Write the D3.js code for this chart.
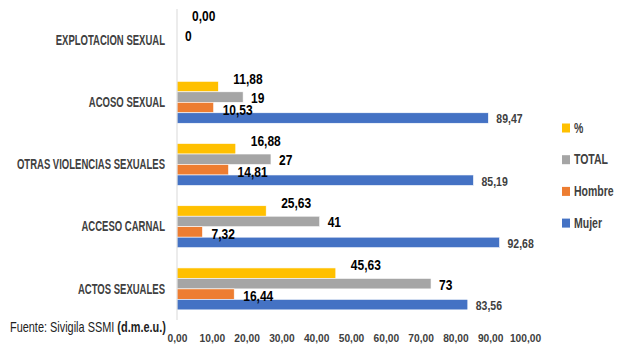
<!DOCTYPE html>
<html><head><meta charset="utf-8">
<script src="https://cdn.jsdelivr.net/npm/d3@7"></script>
<style>
body{margin:0;background:#fff;}
text{font-family:'Liberation Sans',Arial,sans-serif;}
</style></head>
<body><svg id="c" width="619" height="350"></svg>
<script>
const categories = ["EXPLOTACION SEXUAL","ACOSO SEXUAL","OTRAS VIOLENCIAS SEXUALES","ACCESO CARNAL","ACTOS SEXUALES"];
const seriesNames = ["%","TOTAL","Hombre","Mujer"];
const pct    = [0.00, 11.88, 16.88, 25.63, 45.63];
const total  = [0, 19, 27, 41, 73];
const hombre = [null, 10.53, 14.81, 7.32, 16.44];
const mujer  = [null, 89.47, 85.19, 92.68, 83.56];
const xTicks = [0,10,20,30,40,50,60,70,80,90,100];
const source = "Fuente: Sivigila SSMI ";
const sourceBold = "(d.m.e.u.)";

const colors = {"%":"#FFC000","TOTAL":"#A5A5A5","Hombre":"#ED7D31","Mujer":"#4472C4"};
const seriesValues = {"%":pct,"TOTAL":total,"Hombre":hombre,"Mujer":mujer};
const fmt2 = v => d3.format(".2f")(v).replace(".", ",");
const fmtLabel = {"%":fmt2,"TOTAL":v=>String(v),"Hombre":fmt2,"Mujer":fmt2};
const labelStyle = {
  "%":{dx:15,dy:-8,size:15,k:0.8,color:"#000"},
  "TOTAL":{dx:8,dy:1,size:15,k:0.8,color:"#000"},
  "Hombre":{dx:9,dy:2,size:15,k:0.8,color:"#000"},
  "Mujer":{dx:8,dy:1,size:12.5,k:0.84,color:"#404040"}
};

const svg = d3.select("#c");
const x = d3.scaleLinear().domain([0,100]).range([177,525]);
const y0 = d3.scaleBand().domain(categories).range([9,320]).paddingInner(0.326).paddingOuter(0.163);
const y1 = d3.scaleBand().domain(seriesNames).range([0,y0.bandwidth()]);

const rows = categories.map((c,i)=>({cat:c, vals:seriesNames.map(s=>({s, v:seriesValues[s][i]}))}));

const g = svg.append("g");
const grp = g.selectAll("g.cat").data(rows).join("g").attr("transform",d=>`translate(0,${y0(d.cat)})`);
grp.selectAll("rect").data(d=>d.vals.filter(e=>e.v!=null && e.v>0)).join("rect")
  .attr("x",x(0)).attr("y",e=>y1(e.s)).attr("width",e=>x(e.v)-x(0)).attr("height",y1.bandwidth())
  .attr("fill",e=>colors[e.s]).attr("stroke","#fff").attr("stroke-width",0.6);
grp.selectAll("text.v").data(d=>d.vals.filter(e=>e.v!=null)).join("text").attr("class","v")
  .attr("transform",e=>`translate(${x(e.v)+labelStyle[e.s].dx},${y1(e.s)+y1.bandwidth()/2+labelStyle[e.s].dy}) scale(${labelStyle[e.s].k},1)`)
  .attr("dominant-baseline","central")
  .attr("font-size",e=>labelStyle[e.s].size).attr("font-weight","bold")
  .attr("fill",e=>labelStyle[e.s].color)
  .text(e=>fmtLabel[e.s](e.v));

// vertical axis line
svg.append("line").attr("x1",x(0)).attr("x2",x(0)).attr("y1",y0.range()[0]).attr("y2",y0.range()[1])
  .attr("stroke","#d9d9d9").attr("stroke-width",1);

// category labels
svg.append("g").selectAll("text").data(categories).join("text")
  .attr("transform",d=>`translate(${x(0)-12},${y0(d)+y0.bandwidth()/2}) scale(0.68,1)`)
  .attr("text-anchor","end").attr("dominant-baseline","central")
  .attr("font-size",14).attr("font-weight","bold").attr("fill","#404040").text(d=>d);

// x axis
const xa = svg.append("g").attr("transform","translate(0,330)")
  .call(d3.axisBottom(x).tickValues(xTicks).tickSize(0).tickPadding(4).tickFormat(fmt2));
xa.select(".domain").remove();
xa.selectAll("text").attr("font-size",11.6).attr("font-weight","bold").attr("fill","#404040")
  .attr("transform","scale(0.88,1)")
  .style("font-family","'Liberation Sans',Arial,sans-serif");

// legend
const lg = svg.append("g").attr("transform","translate(562,128)");
const li = lg.selectAll("g").data(seriesNames).join("g").attr("transform",(d,i)=>`translate(0,${i*31.7})`);
li.append("rect").attr("x",0).attr("y",-4.5).attr("width",8).attr("height",9).attr("fill",d=>colors[d]);
li.append("text").attr("transform","translate(12,0) scale(0.75,1)").attr("dominant-baseline","central")
  .attr("font-size",14).attr("font-weight","bold").attr("fill","#404040").text(d=>d);

// source
const st = svg.append("text").attr("transform","translate(10,328) scale(0.78,1)").attr("dominant-baseline","central")
  .attr("font-size",14).attr("fill","#222");
st.append("tspan").text(source);
st.append("tspan").attr("font-weight","bold").text(sourceBold);
</script></body></html>
